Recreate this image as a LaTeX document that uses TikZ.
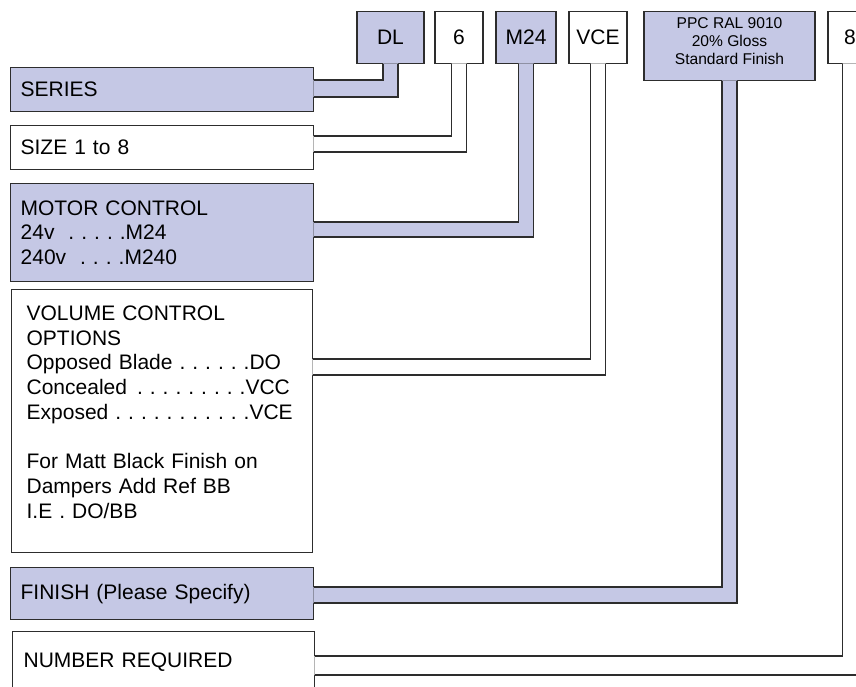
\documentclass[tikz,border=0pt]{standalone}
\usepackage{fontspec}
\setmainfont{Liberation Sans}
\usetikzlibrary{calc}
\definecolor{lavender}{RGB}{197,200,229}
\definecolor{linegray}{RGB}{45,45,45}
\frenchspacing

% tab joining a description box (#1) to its code box (#2), rows #3..#4
\newcommand{\codetab}[5]{%
  \fill[#5] let \p1=(#2.south), \p2=(#1.east) in
    (\x2-1pt,-#3pt) -- (\x1-7.5pt,-#3pt) -- (\x1-7.5pt,\y1+1pt) --
    (\x1+7.5pt,\y1+1pt) -- (\x1+7.5pt,-#4pt) -- (\x2-1pt,-#4pt) -- cycle;
  \draw[tabline] let \p1=(#2.south), \p2=(#1.east) in
    (\x2-0.6pt,-#3pt) -- (\x1-7.5pt,-#3pt) -- (\x1-7.5pt,\y1)
    (\x2-0.6pt,-#4pt) -- (\x1+7.5pt,-#4pt) -- (\x1+7.5pt,\y1);
}

\begin{document}
\begin{tikzpicture}[x=1pt, y=-1pt,
    box/.style={draw=linegray, line width=1.3pt, rectangle, inner sep=0pt},
    descbox/.style={box, anchor=north west, inner xsep=10pt, text width=283pt,
      align=left, font=\fontsize{21pt}{24.5pt}\selectfont},
    codebox/.style={box, anchor=north, minimum height=52pt,
      font=\fontsize{21pt}{24.5pt}\selectfont},
    tabline/.style={draw=linegray, line width=1.3pt}]
    \useasboundingbox (0,0) rectangle (856,687);
    \clip (0,0) rectangle (856,687);

    % Code boxes along the top
    \node[codebox, fill=lavender, minimum width=67pt] (dl) at (390.5,11) {DL};
    \node[codebox, fill=white, minimum width=48pt] (six) at (459,11) {6};
    \node[codebox, fill=lavender, minimum width=60pt] (mtf) at (526,11) {M24};
    \node[codebox, fill=white, minimum width=58pt] (vce) at (598,11) {VCE};
    \node[codebox, fill=lavender, minimum width=171pt, minimum height=69pt, align=center,
      font=\fontsize{15.6pt}{18pt}\selectfont] (ppc) at (729.5,11)
      {PPC RAL 9010\\20\% Gloss\\Standard Finish\rule[-10pt]{0pt}{10pt}};
    \node[codebox, fill=white, minimum width=44pt] (eight) at (850,11) {8};

    % Description boxes down the left
    \node[descbox, fill=lavender, minimum height=44pt] (series) at (10,67) {SERIES};
    \node[descbox, fill=white, minimum height=44pt] (size) at (10,125) {SIZE 1 to 8};
    \node[descbox, fill=lavender, minimum height=98pt] (motor) at (10,183)
      {MOTOR CONTROL\\24v \ . . . . .M24\\240v \ . . . .M240};
    \node[descbox, fill=white, minimum height=263pt, inner xsep=15pt, text width=271pt,
      font=\fontsize{21pt}{24.75pt}\selectfont] (volume) at (11,289)
      {VOLUME CONTROL\\OPTIONS\\\mbox{Opposed Blade . . . . . .DO}\\
       \mbox{Concealed\hspace{10pt}. . . . . . . . .VCC}\\
       \mbox{Exposed . . . . . . . . . . .VCE}\\[24.75pt]
       For Matt Black Finish on\\Dampers Add Ref BB\\I.E . DO/BB\rule[-18pt]{0pt}{18pt}};
    \node[descbox, fill=lavender, minimum height=52pt] (finish) at (10,567) {FINISH (Please Specify)};
    \node[descbox, fill=white, minimum height=60pt, inner xsep=11pt, text width=280pt] (number) at (12,631) {NUMBER REQUIRED};

    % Tabs
    \codetab{series}{dl}{80}{97}{lavender}
    \codetab{size}{six}{136}{152}{white}
    \codetab{motor}{mtf}{222}{237}{lavender}
    \codetab{volume}{vce}{359}{375}{white}
    \codetab{finish}{ppc}{587}{603}{lavender}
    \codetab{number}{eight}{656}{675}{white}
\end{tikzpicture}
\end{document}
